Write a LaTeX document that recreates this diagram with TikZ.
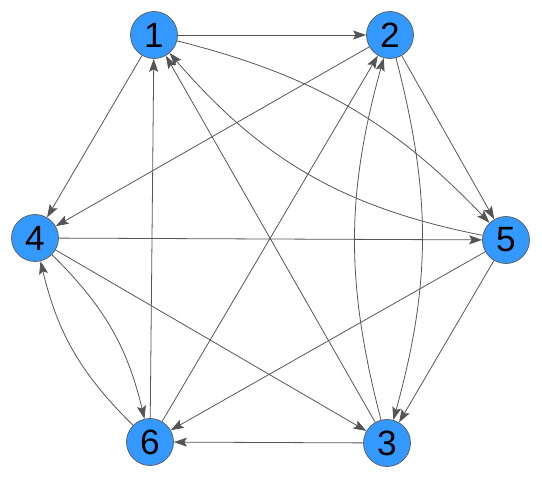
\documentclass[tikz,border=0pt]{standalone}
\usepackage{fontspec}
\setmainfont{Liberation Sans}
\usetikzlibrary{arrows.meta}
\definecolor{nodeblue}{RGB}{51,153,255}
\definecolor{edgegray}{RGB}{85,85,85}
\begin{document}
\begin{tikzpicture}[
        vertex/.style={circle,fill=nodeblue,draw=black!65,line width=0.4pt,minimum size=0.94cm,inner sep=0pt,font=\fontsize{20}{20}\selectfont},
        edge/.style={-{Stealth[length=2.6mm,width=1.8mm,inset=0.5mm]},draw=edgegray,line width=0.45pt}]
        \useasboundingbox (0,0) rectangle (10.84,9.6);

        % Vertices
        \node[vertex] (n1) at (3.08,8.9) {1};
        \node[vertex] (n2) at (7.8,8.9) {2};
        \node[vertex] (n4) at (0.7,4.84) {4};
        \node[vertex] (n5) at (10.12,4.8) {5};
        \node[vertex] (n6) at (3.0,0.76) {6};
        \node[vertex] (n3) at (7.74,0.74) {3};

        % Straight edges
        \draw[edge] (n1) -- (n2);
        \draw[edge] (n1) -- (n4);
        \draw[edge] (n2) -- (n4);
        \draw[edge] (n2) -- (n5);
        \draw[edge] (n4) -- (n5);
        \draw[edge] (n4) -- (n3);
        \draw[edge] (n5) -- (n3);
        \draw[edge] (n5) -- (n6);
        \draw[edge] (n3) -- (n6);
        \draw[edge] (n3) -- (n1);
        \draw[edge] (n6) -- (n1);
        \draw[edge] (n6) -- (n2);

        % Curved pairs
        \draw[edge] (n1) to[bend left=16] (n5);
        \draw[edge] (n5) to[bend left=19] (n1);
        \draw[edge] (n2) to[bend left=15] (n3);
        \draw[edge] (n3) to[bend left=15] (n2);
        \draw[edge] (n4) to[bend left=16] (n6);
        \draw[edge] (n6) to[bend left=16] (n4);
\end{tikzpicture}
\end{document}
